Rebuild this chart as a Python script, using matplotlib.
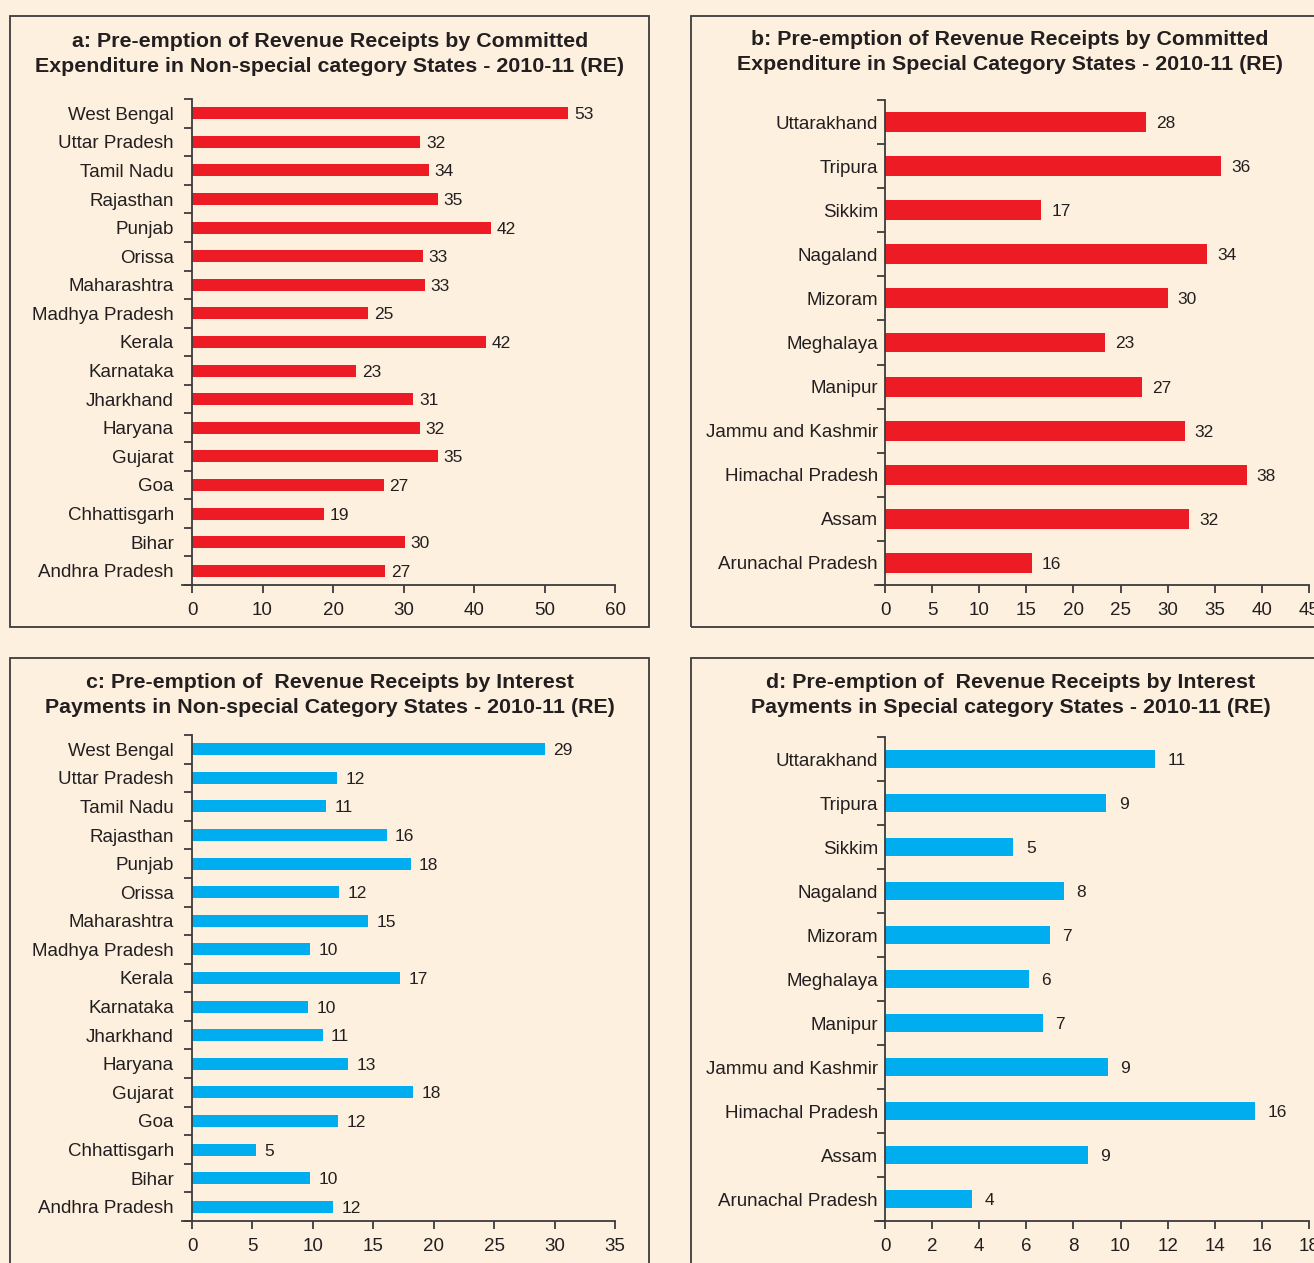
import matplotlib.pyplot as plt
from matplotlib.patches import Rectangle
from matplotlib.ticker import FixedLocator

plt.rcParams['font.family'] = ['Liberation Sans', 'DejaVu Sans']

non_special = ['Andhra Pradesh', 'Bihar', 'Chhattisgarh', 'Goa', 'Gujarat', 'Haryana',
               'Jharkhand', 'Karnataka', 'Kerala', 'Madhya Pradesh', 'Maharashtra',
               'Orissa', 'Punjab', 'Rajasthan', 'Tamil Nadu', 'Uttar Pradesh', 'West Bengal']
special = ['Arunachal Pradesh', 'Assam', 'Himachal Pradesh', 'Jammu and Kashmir', 'Manipur',
           'Meghalaya', 'Mizoram', 'Nagaland', 'Sikkim', 'Tripura', 'Uttarakhand']

committed_ns = [27.4, 30.2, 18.7, 27.2, 34.9, 32.3, 31.4, 23.3, 41.7, 25.0, 33.0,
                32.8, 42.4, 34.9, 33.6, 32.4, 53.4]
committed_sp = [15.6, 32.3, 38.4, 31.8, 27.3, 23.4, 30.0, 34.2, 16.6, 35.7, 27.7]
interest_ns = [11.7, 9.8, 5.3, 12.1, 18.3, 12.9, 10.8, 9.6, 17.2, 9.8, 14.6,
               12.2, 18.1, 16.1, 11.1, 12.0, 29.2]
interest_sp = [3.7, 8.6, 15.7, 9.45, 6.7, 6.1, 7.0, 7.6, 5.45, 9.4, 11.45]

titles = ['a: Pre-emption of Revenue Receipts by Committed\nExpenditure in Non-special category States - 2010-11 (RE)',
          'b: Pre-emption of Revenue Receipts by Committed\nExpenditure in Special Category States - 2010-11 (RE)',
          'c: Pre-emption of  Revenue Receipts by Interest\nPayments in Non-special Category States - 2010-11 (RE)',
          'd: Pre-emption of  Revenue Receipts by Interest\nPayments in Special category States - 2010-11 (RE)']

W, H = 1314, 1263
bg = '#FDF0DE'
ink = '#231F20'
red = '#ED1C24'
blue = '#00AEEF'

fig = plt.figure(figsize=(W / 100, H / 100), dpi=100, facecolor=bg)


def px(l, t, r, b):
    return [l / W, 1 - b / H, (r - l) / W, (b - t) / H]


panels = [
    # border box, axes box (px), x of zero, title centre, categories, values, colour,
    # xmax, step, bar height, value gap, label pad
    ((10, 16, 649, 627), (182, 99, 615, 585), 192, (330, 54), non_special, committed_ns, red, 60, 10, 0.42, 4, 13),
    ((691, 16, 1330, 627), (875, 100, 1309, 585), 885, (1010, 52), special, committed_sp, red, 45, 5, 0.45, 7, 5),
    ((10, 658, 649, 1275), (182, 735, 615, 1221), 192, (330, 695), non_special, interest_ns, blue, 35, 5, 0.42, 6, 13),
    ((691, 658, 1330, 1275), (875, 737, 1309, 1221), 885, (1011, 695), special, interest_sp, blue, 18, 2, 0.43, 9, 5),
]

for (border, box, x0, tpos, cats, vals, color, xmax, step, bh, gap, lpad), title in zip(panels, titles):
    l, t, r, b = border
    fig.patches.append(Rectangle((l / W, 1 - b / H), (r - l) / W, (b - t) / H,
                                 transform=fig.transFigure, fill=False,
                                 edgecolor='#3C3C3C', linewidth=1.3))
    fig.text(tpos[0] / W, 1 - tpos[1] / H, title, ha='center', va='center',
             fontsize=15.4, fontweight='bold', color=ink, linespacing=1.35)

    ax = fig.add_axes(px(*box))
    ax.set_facecolor('none')
    y = range(len(cats))
    ax.barh(y, vals, height=bh, color=color, zorder=2)
    for yi, v in zip(y, vals):
        ax.annotate('%d' % round(v), (v, yi), xytext=(gap, 0), textcoords='offset points',
                    ha='left', va='center_baseline', fontsize=12.5, color=ink)

    # x axis starts a little left of zero, y axis sits on zero
    left = -xmax * (x0 - box[0]) / (box[2] - x0)
    ax.set_xlim(left, xmax)
    ax.set_ylim(-0.5, len(cats) - 0.5)
    ax.spines['left'].set_position(('data', 0))
    ax.spines['top'].set_visible(False)
    ax.spines['right'].set_visible(False)
    for s in ('left', 'bottom'):
        ax.spines[s].set_color('#3C3C3C')
        ax.spines[s].set_linewidth(1.3)

    ax.set_xticks(range(0, xmax + 1, step))
    ax.tick_params(axis='x', direction='out', length=6, width=1.3, color='#3C3C3C',
                   labelsize=13.5, labelcolor=ink, pad=6)
    ax.set_yticks(list(y))
    ax.set_yticklabels(cats)
    ax.tick_params(axis='y', which='major', length=0, labelsize=13.5, labelcolor=ink, pad=lpad)
    ax.yaxis.set_minor_locator(FixedLocator([i + 0.5 for i in range(-1, len(cats))]))
    ax.tick_params(axis='y', which='minor', direction='out', length=6, width=1.3, color='#3C3C3C')

fig.savefig('out.png', dpi=100, facecolor=bg)
